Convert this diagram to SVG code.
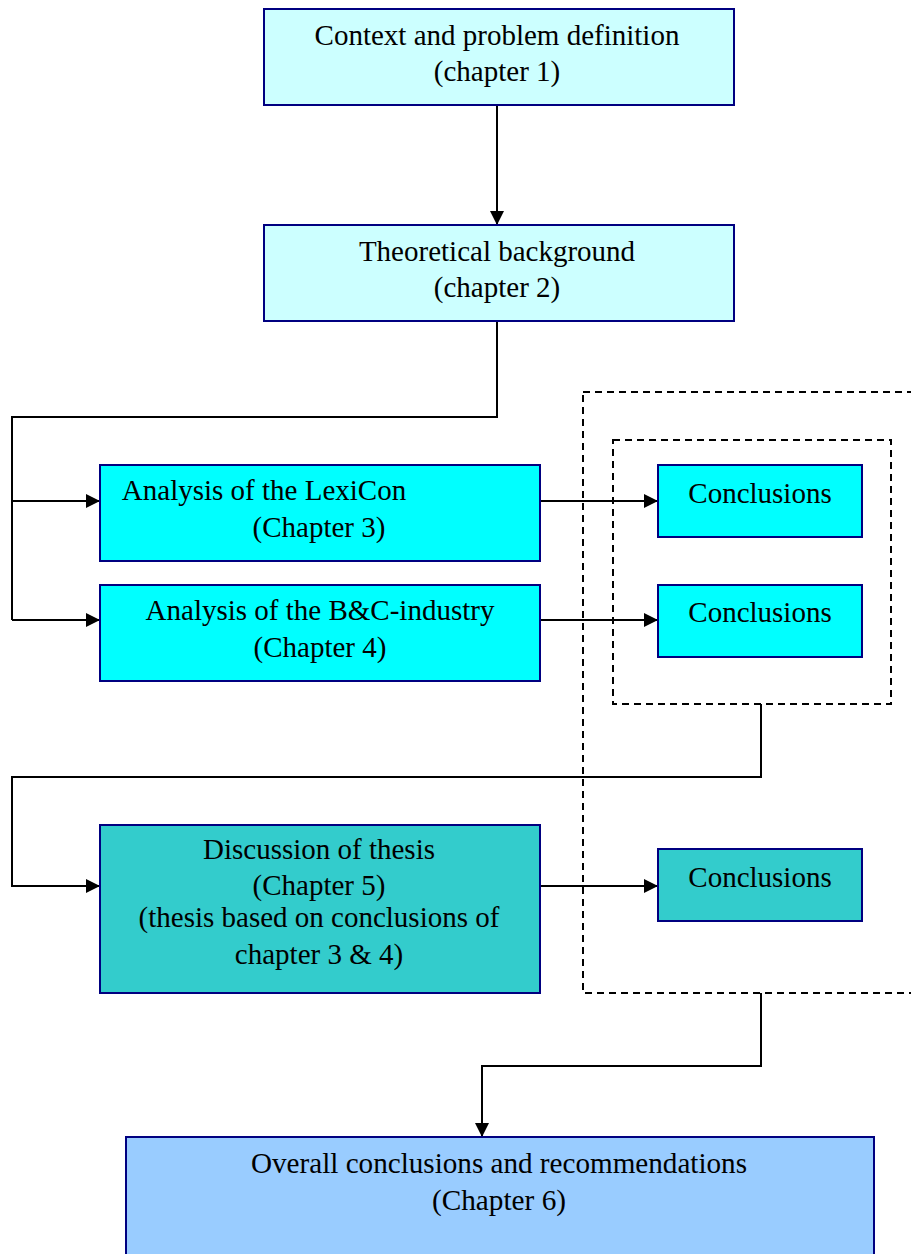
<svg xmlns="http://www.w3.org/2000/svg" width="911" height="1254" viewBox="0 0 911 1254">
  <style>
    .box { stroke: #000080; stroke-width: 2; }
    .t { font-family: "Liberation Serif", "Times New Roman", serif; font-size: 29px; fill: #000; text-anchor: middle; }
    .wire { fill: none; stroke: #000; stroke-width: 2; }
    .dash { fill: none; stroke: #000; stroke-width: 2; stroke-dasharray: 7 5; }
  </style>
  <defs>
    <marker id="arrow" viewBox="0 0 10 10" refX="10" refY="5" markerWidth="15" markerHeight="14" markerUnits="userSpaceOnUse" orient="auto">
      <path d="M0,0 L10,5 L0,10 z" fill="#000"/>
    </marker>
  </defs>
  <rect width="911" height="1254" fill="#fff"/>

  <!-- grouping frames -->
  <g id="groups">
    <rect class="dash" x="583" y="392" width="340" height="601"/>
    <rect class="dash" x="613" y="440" width="278" height="264"/>
  </g>

  <g id="connectors">
    <line class="wire" x1="497" y1="105" x2="497" y2="225" marker-end="url(#arrow)"/>
    <polyline class="wire" points="497,321 497,417 12,417 12,620"/>
    <line class="wire" x1="12" y1="501" x2="100" y2="501" marker-end="url(#arrow)"/>
    <line class="wire" x1="12" y1="620" x2="100" y2="620" marker-end="url(#arrow)"/>
    <line class="wire" x1="540" y1="501" x2="658" y2="501" marker-end="url(#arrow)"/>
    <line class="wire" x1="540" y1="620" x2="658" y2="620" marker-end="url(#arrow)"/>
    <polyline class="wire" points="761,704 761,777 12,777 12,886 100,886" marker-end="url(#arrow)"/>
    <line class="wire" x1="540" y1="886" x2="658" y2="886" marker-end="url(#arrow)"/>
    <polyline class="wire" points="761,993 761,1066 482,1066 482,1137" marker-end="url(#arrow)"/>
  </g>

  <g id="ch1">
    <rect class="box" x="264" y="9" width="470" height="96" fill="#ccffff"/>
    <text class="t" x="497" y="45">Context and problem definition</text>
    <text class="t" x="497" y="81">(chapter 1)</text>
  </g>

  <g id="ch2">
    <rect class="box" x="264" y="225" width="470" height="96" fill="#ccffff"/>
    <text class="t" x="497" y="261">Theoretical background</text>
    <text class="t" x="497" y="297">(chapter 2)</text>
  </g>

  <g id="ch3">
    <rect class="box" x="100" y="465" width="440" height="96" fill="#00ffff"/>
    <text class="t" x="264" y="500">Analysis of the LexiCon</text>
    <text class="t" x="319" y="537">(Chapter 3)</text>
  </g>

  <g id="ch4">
    <rect class="box" x="100" y="585" width="440" height="96" fill="#00ffff"/>
    <text class="t" x="320" y="620">Analysis of the B&amp;C-industry</text>
    <text class="t" x="320" y="657">(Chapter 4)</text>
  </g>

  <g id="concl3">
    <rect class="box" x="658" y="465" width="204" height="72" fill="#00ffff"/>
    <text class="t" x="760" y="503">Conclusions</text>
  </g>

  <g id="concl4">
    <rect class="box" x="658" y="585" width="204" height="72" fill="#00ffff"/>
    <text class="t" x="760" y="622">Conclusions</text>
  </g>

  <g id="ch5">
    <rect class="box" x="100" y="825" width="440" height="168" fill="#33cccc"/>
    <text class="t" x="319" y="859">Discussion of thesis</text>
    <text class="t" x="319" y="895">(Chapter 5)</text>
    <text class="t" x="319" y="927">(thesis based on conclusions of</text>
    <text class="t" x="319" y="964">chapter 3 &amp; 4)</text>
  </g>

  <g id="concl5">
    <rect class="box" x="658" y="849" width="204" height="72" fill="#33cccc"/>
    <text class="t" x="760" y="887">Conclusions</text>
  </g>

  <g id="ch6">
    <rect class="box" x="126" y="1137" width="748" height="130" fill="#99ccff"/>
    <text class="t" x="499" y="1173" textLength="496" lengthAdjust="spacingAndGlyphs">Overall conclusions and recommendations</text>
    <text class="t" x="499" y="1210" textLength="134" lengthAdjust="spacingAndGlyphs">(Chapter 6)</text>
  </g>
</svg>
